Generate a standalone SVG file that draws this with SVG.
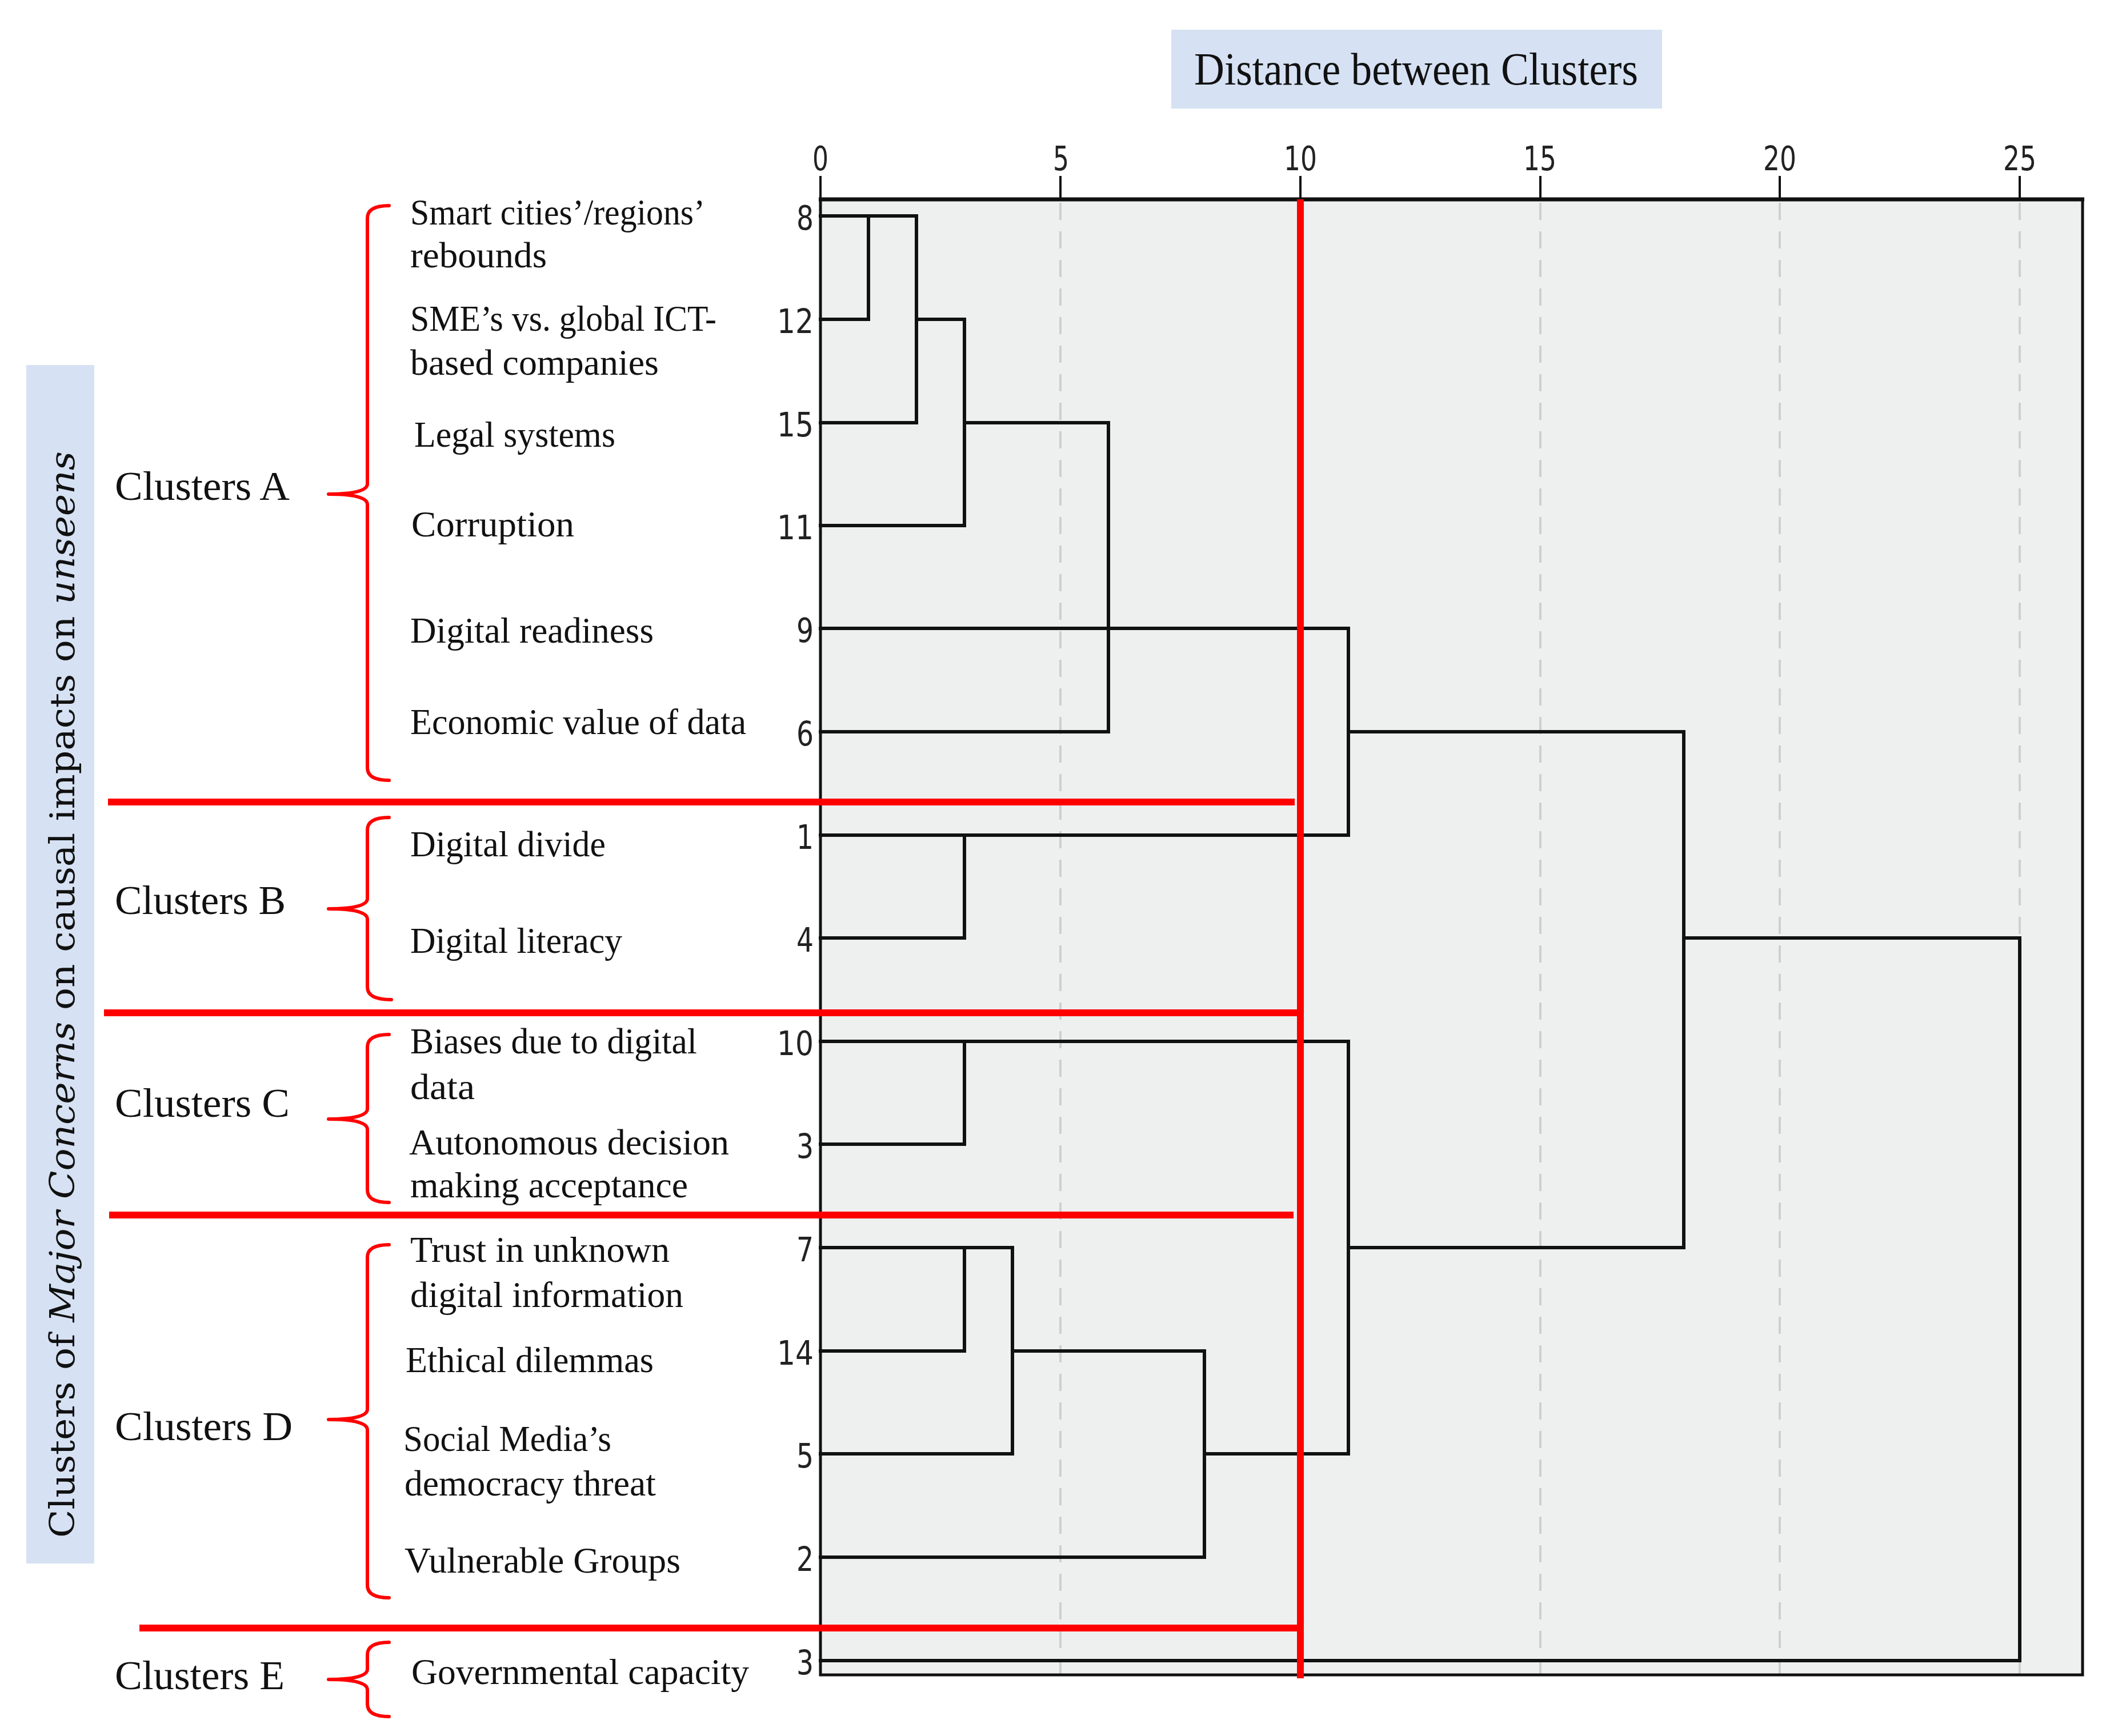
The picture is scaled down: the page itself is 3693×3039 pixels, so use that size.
<svg xmlns="http://www.w3.org/2000/svg" width="3693" height="3039" viewBox="0 0 3693 3039">
<defs>
<style>
.item{font-family:"Liberation Serif","Times New Roman",serif;font-size:64px;fill:#111}
.clab{font-family:"Liberation Serif","Times New Roman",serif;font-size:72px;fill:#111}
.num{font-family:"DejaVu Sans","Liberation Sans",sans-serif;font-size:58px;fill:#222}
.brace{fill:none;stroke:#ff0000;stroke-width:6;stroke-linecap:round;stroke-linejoin:round}
.cut{stroke:#ff0000;stroke-width:12;fill:none}
.den{fill:none;stroke:#111;stroke-width:6;stroke-linecap:square}
.grid{stroke:#cfcfcf;stroke-width:4;stroke-dasharray:30 20;fill:none}
.frame{stroke:#111;fill:none}
.box{fill:#d6e2f3}
</style>
</defs>
<rect width="3693" height="3039" fill="#ffffff"/>

<g id="title">
<rect class="box" x="2050" y="52" width="859" height="138"/>
<text x="2090" y="148" font-family="Liberation Serif, Times New Roman, serif" font-size="80" fill="#111" textLength="777" lengthAdjust="spacingAndGlyphs">Distance between  Clusters</text>
</g>

<g id="side-label">
<rect class="box" x="46" y="639" width="119" height="2098"/>
<text transform="rotate(-90)" x="-2692" y="130" font-family="DejaVu Serif, Liberation Serif, serif" font-size="60" fill="#111" textLength="1902" lengthAdjust="spacingAndGlyphs">Clusters of <tspan font-style="italic">Major Concerns</tspan> on causal impacts on  <tspan font-style="italic">unseens</tspan></text>
</g>

<g id="plot">
<rect x="1436" y="349" width="2209" height="2583" fill="#eef0ef"/>
<path class="grid" d="M1856 355V2930M2696 355V2930M3115 355V2930M3535 355V2930"/>
</g>

<g id="axis">
<path class="frame" stroke-width="4" d="M1436 308V349M1856 308V349M2276 308V349M2696 308V349M3115 308V349M3535 308V349"/>
<g class="num" text-anchor="middle">
<text x="1436" y="298" textLength="28" lengthAdjust="spacingAndGlyphs">0</text>
<text x="1857" y="298" textLength="28" lengthAdjust="spacingAndGlyphs">5</text>
<text x="2276" y="298" textLength="58" lengthAdjust="spacingAndGlyphs">10</text>
<text x="2695" y="298" textLength="58" lengthAdjust="spacingAndGlyphs">15</text>
<text x="3115" y="298" textLength="58" lengthAdjust="spacingAndGlyphs">20</text>
<text x="3535" y="298" textLength="58" lengthAdjust="spacingAndGlyphs">25</text>
</g>
</g>

<g id="leaf-numbers" class="num" text-anchor="end">
<text x="1424" y="402" textLength="30" lengthAdjust="spacingAndGlyphs">8</text>
<text x="1424" y="583" textLength="64" lengthAdjust="spacingAndGlyphs">12</text>
<text x="1424" y="764" textLength="64" lengthAdjust="spacingAndGlyphs">15</text>
<text x="1424" y="944" textLength="64" lengthAdjust="spacingAndGlyphs">11</text>
<text x="1424" y="1124" textLength="30" lengthAdjust="spacingAndGlyphs">9</text>
<text x="1424" y="1305" textLength="30" lengthAdjust="spacingAndGlyphs">6</text>
<text x="1424" y="1486" textLength="30" lengthAdjust="spacingAndGlyphs">1</text>
<text x="1424" y="1666" textLength="30" lengthAdjust="spacingAndGlyphs">4</text>
<text x="1424" y="1847" textLength="64" lengthAdjust="spacingAndGlyphs">10</text>
<text x="1424" y="2027" textLength="30" lengthAdjust="spacingAndGlyphs">3</text>
<text x="1424" y="2208" textLength="30" lengthAdjust="spacingAndGlyphs">7</text>
<text x="1424" y="2389" textLength="64" lengthAdjust="spacingAndGlyphs">14</text>
<text x="1424" y="2569" textLength="30" lengthAdjust="spacingAndGlyphs">5</text>
<text x="1424" y="2750" textLength="30" lengthAdjust="spacingAndGlyphs">2</text>
<text x="1424" y="2931" textLength="30" lengthAdjust="spacingAndGlyphs">3</text>
</g>

<g id="connectors" class="den">
<path d="M1436 378H1604M1520 378V559M1436 559H1520M1604 559H1688M1604 378V740M1436 740H1604M1688 740H1940M1688 559V920M1436 920H1688M1436 1100H2360M1940 740V1281M1436 1281H1940M2360 1281H2947M2360 1100V1462M1436 1462H2360M1688 1462V1642M1436 1642H1688M2947 1642H3535M2947 1281V2184"/>
<path d="M1436 1823H2360M1688 1823V2003M1436 2003H1688M2360 1823V2545M1436 2184H1772M2360 2184H2947M1688 2184V2365M1436 2365H1688M1772 2365H2108M1772 2184V2545M1436 2545H1772M2108 2545H2360M2108 2365V2726M1436 2726H2108M1436 2907H3535M3535 1642V2907"/>
</g>

<g id="plot-frame">
<path class="frame" stroke-width="7" d="M1433 349H3648"/>
<path class="frame" stroke-width="5" d="M1436 349V2932H3645V349"/>
</g>

<g id="cut-lines">
<path class="cut" d="M189 1404H2266M182 1773H2277M191 2127H2264M244 2850H2277"/>
<path class="cut" stroke-width="11" d="M2276 349V2938"/>
</g>

<g id="cluster-A">
<text class="clab" x="201" y="875" textLength="306" lengthAdjust="spacingAndGlyphs">Clusters A</text>
<path class="brace" d="M681 360Q643 360 643 382L643 847Q643 865 575 865Q643 865 643 883L643 1344Q643 1366 681 1366"/>
<text class="item" x="718" y="393" textLength="516" lengthAdjust="spacingAndGlyphs">Smart cities’/regions’</text>
<text class="item" x="718" y="468" textLength="239" lengthAdjust="spacingAndGlyphs">rebounds</text>
<text class="item" x="718" y="579" textLength="536" lengthAdjust="spacingAndGlyphs">SME’s vs. global ICT-</text>
<text class="item" x="718" y="656" textLength="435" lengthAdjust="spacingAndGlyphs">based companies</text>
<text class="item" x="725" y="782" textLength="352" lengthAdjust="spacingAndGlyphs">Legal systems</text>
<text class="item" x="720" y="939" textLength="285" lengthAdjust="spacingAndGlyphs">Corruption</text>
<text class="item" x="718" y="1125" textLength="426" lengthAdjust="spacingAndGlyphs">Digital  readiness</text>
<text class="item" x="718" y="1285" textLength="588" lengthAdjust="spacingAndGlyphs">Economic value of data</text>
</g>

<g id="cluster-B">
<text class="clab" x="201" y="1600" textLength="299" lengthAdjust="spacingAndGlyphs">Clusters B</text>
<path class="brace" d="M681 1431Q643 1431 643 1453L643 1573Q643 1591 575 1591Q643 1591 643 1609L643 1728Q643 1750 685 1750"/>
<text class="item" x="718" y="1499" textLength="342" lengthAdjust="spacingAndGlyphs">Digital divide</text>
<text class="item" x="718" y="1668" textLength="371" lengthAdjust="spacingAndGlyphs">Digital literacy</text>
</g>

<g id="cluster-C">
<text class="clab" x="201" y="1955" textLength="306" lengthAdjust="spacingAndGlyphs">Clusters C</text>
<path class="brace" d="M681 1811Q643 1811 643 1833L643 1941Q643 1959 575 1959Q643 1959 643 1977L643 2083Q643 2105 681 2105"/>
<text class="item" x="718" y="1844" textLength="502" lengthAdjust="spacingAndGlyphs">Biases due to digital</text>
<text class="item" x="718" y="1924" textLength="113" lengthAdjust="spacingAndGlyphs">data</text>
<text class="item" x="716" y="2021" textLength="560" lengthAdjust="spacingAndGlyphs">Autonomous decision</text>
<text class="item" x="718" y="2096" textLength="486" lengthAdjust="spacingAndGlyphs">making acceptance</text>
</g>

<g id="cluster-D">
<text class="clab" x="201" y="2521" textLength="311" lengthAdjust="spacingAndGlyphs">Clusters D</text>
<path class="brace" d="M681 2179Q643 2179 643 2201L643 2467Q643 2485 575 2485Q643 2485 643 2503L643 2775Q643 2797 681 2797"/>
<text class="item" x="718" y="2209" textLength="454" lengthAdjust="spacingAndGlyphs">Trust in unknown</text>
<text class="item" x="718" y="2288" textLength="478" lengthAdjust="spacingAndGlyphs">digital information</text>
<text class="item" x="710" y="2402" textLength="434" lengthAdjust="spacingAndGlyphs">Ethical dilemmas</text>
<text class="item" x="706" y="2540" textLength="364" lengthAdjust="spacingAndGlyphs">Social Media’s</text>
<text class="item" x="708" y="2618" textLength="440" lengthAdjust="spacingAndGlyphs">democracy threat</text>
<text class="item" x="708" y="2753" textLength="483" lengthAdjust="spacingAndGlyphs">Vulnerable Groups</text>
</g>

<g id="cluster-E">
<text class="clab" x="201" y="2957" textLength="297" lengthAdjust="spacingAndGlyphs">Clusters E</text>
<path class="brace" d="M681 2875Q643 2875 643 2897L643 2922Q643 2940 575 2940Q643 2940 643 2958L643 2983Q643 3005 681 3005"/>
<text class="item" x="720" y="2948" textLength="591" lengthAdjust="spacingAndGlyphs">Governmental capacity</text>
</g>
</svg>
